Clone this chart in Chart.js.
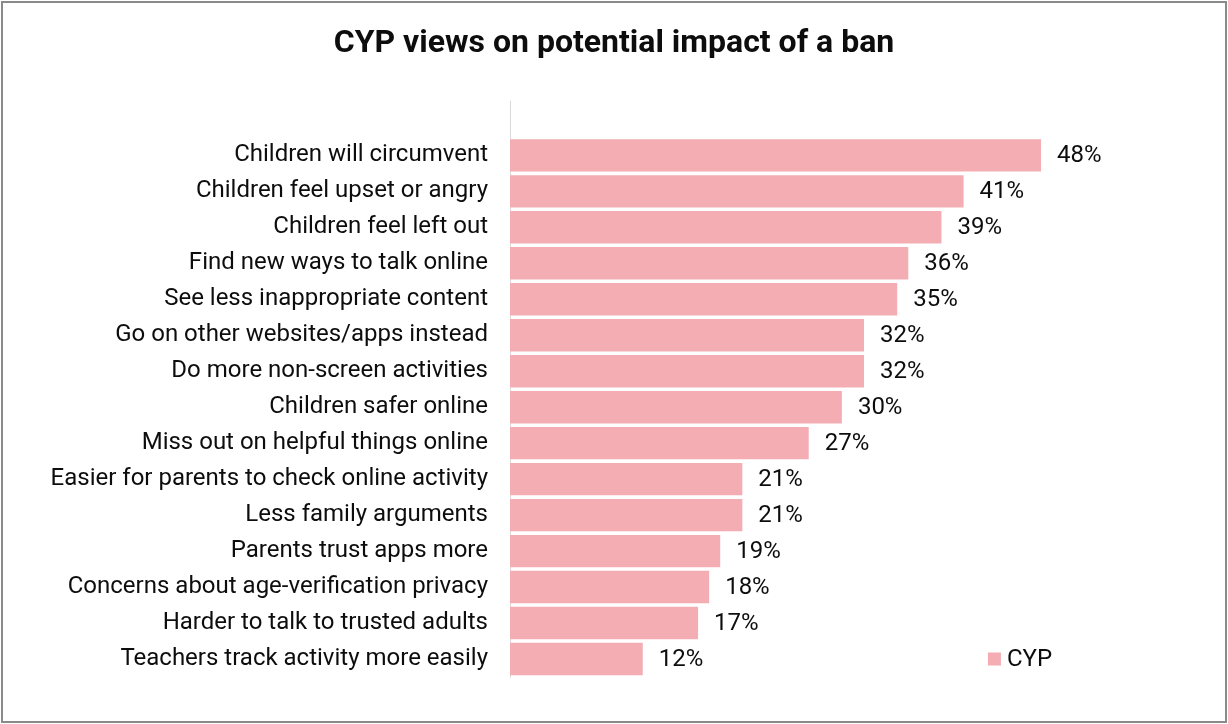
<!DOCTYPE html>
<html>
<head>
<meta charset="utf-8">
<script src="https://cdn.jsdelivr.net/npm/chart.js@4"></script>
<style>
  html, body { margin: 0; padding: 0; background: #fff; }
  #wrap { position: relative; width: 1228px; height: 724px; }
  #frame { position: absolute; left: 1px; top: 1px; width: 1226px; height: 722px; box-sizing: border-box; border: 2px solid #8a8a8a; pointer-events: none; }
</style>
</head>
<body>
<div id="wrap">
  <canvas id="chartBan" width="1228" height="724"></canvas>
  <div id="frame"></div>
</div>
<script>
// Ответы CYP (проценты). Первая строка пустая - отступ сверху, как в исходной таблице
const categories = [
    '',
    'Children will circumvent',
    'Children feel upset or angry',
    'Children feel left out',
    'Find new ways to talk online',
    'See less inappropriate content',
    'Go on other websites/apps instead',
    'Do more non-screen activities',
    'Children safer online',
    'Miss out on helpful things online',
    'Easier for parents to check online activity',
    'Less family arguments',
    'Parents trust apps more',
    'Concerns about age-verification privacy',
    'Harder to talk to trusted adults',
    'Teachers track activity more easily'
];
const cypValues = [null, 48, 41, 39, 36, 35, 32, 32, 30, 27, 21, 21, 19, 18, 17, 12];
const seriesLabel = 'CYP';
const chartTitle = 'CYP views on potential impact of a ban';

const barColor = '#F4ADB3';
const textColor = '#0d0d0d';
const FONT = 'Roboto, "Noto Sans", sans-serif';

// Подписи значений справа от столбцов
const valueLabels = {
    id: 'valueLabels',
    afterDatasetsDraw(chart) {
        const ctx = chart.ctx;
        const meta = chart.getDatasetMeta(0);
        ctx.save();
        ctx.font = '24px ' + FONT;
        ctx.fillStyle = textColor;
        ctx.textAlign = 'left';
        ctx.textBaseline = 'middle';
        meta.data.forEach((bar, i) => {
            const v = cypValues[i];
            if (v === null) return;
            ctx.fillText(v + '%', bar.x + 16, bar.y + 1);
        });
        ctx.restore();
    }
};

// Легенда в правом нижнем углу (привязана к шкале x)
const cornerLegend = {
    id: 'cornerLegend',
    afterDraw(chart) {
        const ctx = chart.ctx;
        const xs = chart.scales.x;
        const meta = chart.getDatasetMeta(0);
        const lastBar = meta.data[meta.data.length - 1];
        const x = xs.getPixelForValue(43.2);
        const y = lastBar.y;
        ctx.save();
        ctx.fillStyle = barColor;
        ctx.fillRect(x, y - 6.5, 13, 13);
        ctx.font = '24px ' + FONT;
        ctx.fillStyle = textColor;
        ctx.textAlign = 'left';
        ctx.textBaseline = 'middle';
        ctx.fillText(seriesLabel, x + 19, y + 1);
        ctx.restore();
    }
};

const ctx = document.getElementById('chartBan').getContext('2d');
new Chart(ctx, {
    type: 'bar',
    data: {
        labels: categories,
        datasets: [{
            label: seriesLabel,
            data: cypValues,
            backgroundColor: barColor,
            borderWidth: 0,
            barPercentage: 0.9,
            categoryPercentage: 1.0
        }]
    },
    options: {
        indexAxis: 'y',
        responsive: false,
        animation: false,
        events: [],
        layout: { padding: { left: 0, right: 0, top: 0, bottom: 47 } },
        scales: {
            x: {
                display: false,
                min: 0,
                max: 64.9
            },
            y: {
                grid: { display: false, drawTicks: false },
                border: { display: true, color: '#D9D9D9', width: 1 },
                ticks: {
                    padding: 22,
                    color: textColor,
                    font: { family: FONT, size: 24 },
                    autoSkip: false
                },
                afterFit(scale) { scale.width = 510; }
            }
        },
        plugins: {
            legend: { display: false },
            tooltip: { enabled: false },
            title: {
                display: true,
                text: chartTitle,
                color: textColor,
                font: { family: FONT, size: 32, weight: 'bold' },
                padding: { top: 25, bottom: 38 }
            }
        }
    },
    plugins: [valueLabels, cornerLegend]
});
</script>
</body>
</html>
